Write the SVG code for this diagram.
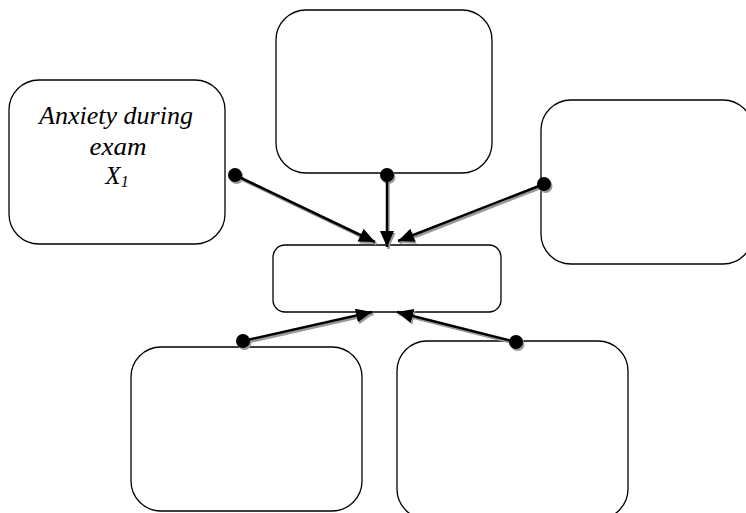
<svg xmlns="http://www.w3.org/2000/svg" width="746" height="513" viewBox="0 0 746 513">
<defs>
<style>
.box{fill:#fff;stroke:#000;stroke-width:1.3}
.ln{stroke:#000;stroke-width:2.5;fill:none}
.sh{stroke:#999;stroke-width:2.5;fill:none}
.lbl{font-family:"Liberation Serif","Times New Roman",serif;font-style:italic;font-size:25px;fill:#000;text-anchor:middle}
</style>
<marker id="ah" markerUnits="userSpaceOnUse" markerWidth="18" markerHeight="16" refX="16" refY="7" orient="auto"><path d="M0,0 L16,7 L0,14 z" fill="#000"/></marker>
<marker id="ahs" markerUnits="userSpaceOnUse" markerWidth="18" markerHeight="16" refX="16" refY="7" orient="auto"><path d="M0,0 L16,7 L0,14 z" fill="#999"/></marker>
<marker id="dot" markerUnits="userSpaceOnUse" markerWidth="16" markerHeight="16" refX="8" refY="8"><circle cx="8" cy="8" r="7" fill="#000"/></marker>
<marker id="dots" markerUnits="userSpaceOnUse" markerWidth="16" markerHeight="16" refX="8" refY="8"><circle cx="8" cy="8" r="7" fill="#999"/></marker>
</defs>
<rect width="746" height="513" fill="#fff"/>
<g id="node-anxiety"><rect class="box" x="9" y="80" width="216" height="164" rx="30"/>
<text class="lbl" x="116" y="124" textLength="154" lengthAdjust="spacingAndGlyphs">Anxiety during</text>
<text class="lbl" x="118" y="155" textLength="57" lengthAdjust="spacingAndGlyphs">exam</text>
<text class="lbl" x="117" y="184">X<tspan font-size="16" dy="3">1</tspan></text></g>
<g id="node-top"><rect class="box" x="276" y="10" width="216" height="163" rx="30"/></g>
<g id="node-right"><rect class="box" x="541" y="100" width="212" height="164" rx="30"/></g>
<g id="node-center"><rect class="box" x="273" y="245" width="228" height="67" rx="12"/></g>
<g id="node-bottom-left"><rect class="box" x="131" y="347" width="231" height="164" rx="30"/></g>
<g id="node-bottom-right"><rect class="box" x="397" y="341" width="231" height="178" rx="30"/></g>
<g id="connectors">
<g transform="translate(1.5,2)">
<line class="sh" x1="235" y1="175" x2="375" y2="242" marker-start="url(#dots)" marker-end="url(#ahs)"/>
<line class="sh" x1="387" y1="175" x2="387" y2="247" marker-start="url(#dots)" marker-end="url(#ahs)"/>
<line class="sh" x1="544" y1="184" x2="398" y2="241" marker-start="url(#dots)" marker-end="url(#ahs)"/>
<line class="sh" x1="243" y1="341" x2="372" y2="312" marker-start="url(#dots)" marker-end="url(#ahs)"/>
<line class="sh" x1="516" y1="342" x2="397" y2="312" marker-start="url(#dots)" marker-end="url(#ahs)"/>
</g>
<line class="ln" x1="235" y1="175" x2="375" y2="242" marker-start="url(#dot)" marker-end="url(#ah)"/>
<line class="ln" x1="387" y1="175" x2="387" y2="247" marker-start="url(#dot)" marker-end="url(#ah)"/>
<line class="ln" x1="544" y1="184" x2="398" y2="241" marker-start="url(#dot)" marker-end="url(#ah)"/>
<line class="ln" x1="243" y1="341" x2="372" y2="312" marker-start="url(#dot)" marker-end="url(#ah)"/>
<line class="ln" x1="516" y1="342" x2="397" y2="312" marker-start="url(#dot)" marker-end="url(#ah)"/>
</g>
</svg>
